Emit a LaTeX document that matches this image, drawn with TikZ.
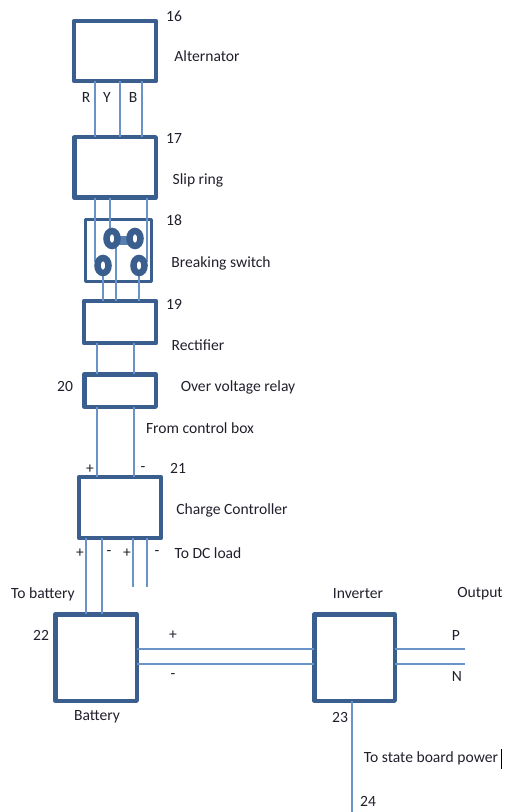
\documentclass[tikz,border=0pt]{standalone}
\usepackage{fontspec}
\setmainfont{Carlito}
\usetikzlibrary{calc}
\definecolor{boxc}{HTML}{3A5F8F}
\definecolor{wirec}{HTML}{6A94C8}
\definecolor{txtc}{HTML}{20202C}
\tikzset{
  box/.style={draw=boxc,fill=white,rectangle,inner sep=0pt,outer sep=0pt,line width=4*0.75pt,line join=round},
  wire/.style={draw=wirec,line width=1.2*0.75pt},
  lbl/.style={text=txtc,font=\fontsize{11.7pt}{13pt}\selectfont,inner sep=0pt,outer sep=0pt,yshift=-0.75pt},
  sw/.style={draw=boxc,ellipse,inner sep=0pt,outer sep=0pt,minimum width=11*0.75pt,minimum height=15*0.75pt,line width=6.5*0.75pt,fill=white}
}
\usetikzlibrary{shapes.geometric}
\begin{document}
\begin{tikzpicture}[x=0.75pt,y=-0.75pt]
\useasboundingbox (0,0) rectangle (505,812);
% boxes
\node[box,minimum width=82*0.75pt,minimum height=60.5*0.75pt] (alt) at (115,51) {};
\node[box,line width=4.5*0.75pt,minimum width=81.5*0.75pt,minimum height=60.5*0.75pt] (slip) at (115,167.5) {};
\node[box,line width=3.2*0.75pt,minimum width=66*0.75pt,minimum height=62*0.75pt] (brk) at (118.5,250.5) {};
\node[box,minimum width=72*0.75pt,minimum height=42.5*0.75pt] (rect) at (120,322) {};
\node[box,line width=4.5*0.75pt,minimum width=71.5*0.75pt,minimum height=32.5*0.75pt] (ovr) at (120,390.5) {};
\node[box,minimum width=82*0.75pt,minimum height=61.5*0.75pt] (cc) at (120,507.5) {};
\node[box,line width=4.5*0.75pt,minimum width=81.5*0.75pt,minimum height=86.5*0.75pt] (bat) at (96,657.5) {};
\node[box,line width=4.5*0.75pt,minimum width=80.5*0.75pt,minimum height=86.5*0.75pt] (inv) at (354.5,657.5) {};
% free ends
\coordinate (dcp) at (133,587);
\coordinate (dcn) at (147,587);
\coordinate (outp) at (465,649);
\coordinate (outn) at (465,664);
\coordinate (sbp) at (352,812);
% wires
\draw[wire] (alt.south -| 95,0) -- (slip.north -| 95,0);
\draw[wire] (alt.south -| 120,0) -- (slip.north -| 120,0);
\draw[wire] (alt.south -| 142,0) -- (slip.north -| 142,0);
\draw[wire] (slip.south -| 95,0) -- (95,262);
\draw[wire] (slip.south -| 110,0) -- (110,235);
\draw[wire] (slip.south -| 147,0) -- (147,262);
\draw[wire] (103,272) -- (rect.north -| 103,0);
\draw[wire] (116,245) -- (rect.north -| 116,0);
\draw[wire] (139,272) -- (rect.north -| 139,0);
\draw[wire] (rect.south -| 97,0) -- (ovr.north -| 97,0);
\draw[wire] (rect.south -| 134,0) -- (ovr.north -| 134,0);
\draw[wire] (ovr.south -| 97,0) -- (cc.north -| 97,0);
\draw[wire] (ovr.south -| 134,0) -- (cc.north -| 134,0);
\draw[wire] (cc.south -| 86,0) -- (bat.north -| 86,0);
\draw[wire] (cc.south -| 102,0) -- (bat.north -| 102,0);
\draw[wire] (cc.south -| dcp) -- (dcp);
\draw[wire] (cc.south -| dcn) -- (dcn);
\draw[wire] (bat.east |- outp) -- (inv.west |- outp);
\draw[wire] (bat.east |- outn) -- (inv.west |- outn);
\draw[wire] (inv.east |- outp) -- (outp);
\draw[wire] (inv.east |- outn) -- (outn);
\draw[wire] (inv.south -| sbp) -- (sbp);
% breaking switch contacts
\fill[wirec!60!boxc] (119,236) rectangle (130,245);
\node[sw] (s1) at (112,238.5) {};
\node[sw] (s2) at (135,238.5) {};
\node[sw] (s3) at (103,265.5) {};
\node[sw] (s4) at (139,265.5) {};
% labels
\node[lbl] at (174,15) {16};
\node[lbl] at (207,55) {Alternator};
\node[lbl] at (86,96) {R};
\node[lbl] at (107,96) {Y};
\node[lbl] at (133,96) {B};
\node[lbl] at (174,137) {17};
\node[lbl] at (198,179) {Slip ring};
\node[lbl] at (174,219) {18};
\node[lbl] at (221,262) {Breaking switch};
\node[lbl] at (174,303) {19};
\node[lbl] at (198,344) {Rectifier};
\node[lbl] at (65,385) {20};
\node[lbl] at (238,386) {Over voltage relay};
\node[lbl] at (200,427) {From control box};
\node[lbl] at (90,468) {+};
\node[lbl] at (143,468) {-};
\node[lbl] at (178,467) {21};
\node[lbl] at (232,509) {Charge Controller};
\node[lbl] at (80,552) {+};
\node[lbl] at (109,552) {-};
\node[lbl] at (127,552) {+};
\node[lbl] at (157,552) {-};
\node[lbl] at (208,552) {To DC load};
\node[lbl] at (43,593) {To battery};
\node[lbl] at (358,593) {Inverter};
\node[lbl] at (480,593) {Output};
\node[lbl] at (41,634) {22};
\node[lbl] at (173,634) {+};
\node[lbl] at (173,675) {-};
\node[lbl] at (456,634) {P};
\node[lbl] at (457,675) {N};
\node[lbl] at (97,716) {Battery};
\node[lbl] at (340,716) {23};
\node[lbl] at (431,757) {To state board power};
\draw[black,line width=0.75pt] (501,749) -- (501,769);
\node[lbl] at (368,800) {24};
\end{tikzpicture}
\end{document}
